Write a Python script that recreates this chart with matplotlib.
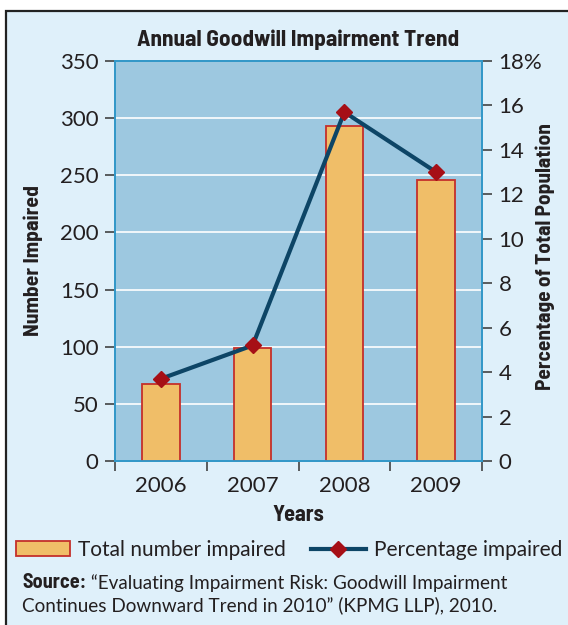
import matplotlib
matplotlib.use('Agg')
import matplotlib.pyplot as plt
from matplotlib.patches import Rectangle
from matplotlib.lines import Line2D

# data
years = ['2006', '2007', '2008', '2009']
num_impaired = [67, 99, 293, 246]
pct_impaired = [3.7, 5.2, 15.7, 13.0]
left_ticks = [0, 50, 100, 150, 200, 250, 300, 350]
right_ticks = [0, 2, 4, 6, 8, 10, 12, 14, 16, 18]
right_labels = ['0', '2', '4', '6', '8', '10', '12', '14', '16', '18%']

W, H = 568, 625
BG = '#dff0fa'
PLOT_BG = '#9dc8e0'
BAR = '#f0be68'
BAR_EDGE = '#c4302b'
LINE = '#0d4566'
MARK = '#a60f16'
SPINE = '#3398c8'
TXT = '#231f20'
REG = ['Lato', 'DejaVu Sans']
BOLD = ['Barlow Semi Condensed', 'DejaVu Sans']
bold_kw = dict(fontfamily=BOLD, fontweight='bold', fontstretch='semi-condensed', color=TXT)

fig = plt.figure(figsize=(W / 100, H / 100), dpi=100)
fig.patch.set_facecolor('white')

# outer frame of the figure box
frame = Rectangle((6 / W, -0.05), 1.1, 1 - 11 / H + 0.05, transform=fig.transFigure,
                  facecolor=BG, edgecolor='#222222', linewidth=1.6, zorder=0)
fig.add_artist(frame)

ax = fig.add_axes([115 / W, (H - 461) / H, (482 - 115) / W, 400 / H])
ax.set_facecolor(PLOT_BG)
xs = list(range(len(years)))
bars = ax.bar(xs, num_impaired, width=0.41, color=BAR, edgecolor=BAR_EDGE,
              linewidth=1.3, zorder=3)
ax.set_xlim(-0.5, len(years) - 0.5)
ax.set_ylim(0, 350)
ax.set_yticks(left_ticks)
ax.yaxis.grid(True, color='white', linewidth=1.2, zorder=1)
ax.set_axisbelow(True)
ax.set_xticks(xs)
ax.set_xticklabels(years)
ax.set_xticks([x - 0.5 for x in range(len(years) + 1)], minor=True)
ax.tick_params(axis='x', which='major', length=0, pad=11, labelsize=16, labelcolor=TXT)
ax.tick_params(axis='x', which='minor', length=7, width=1.1, color='#333333', direction='out')
ax.tick_params(axis='y', length=7, width=1.1, color='#333333', labelsize=16,
               labelcolor=TXT, pad=5)
for lab in ax.get_xticklabels() + ax.get_yticklabels():
    lab.set_fontfamily(REG)
for side in ax.spines.values():
    side.set_color(SPINE)
    side.set_linewidth(1.3)

ax2 = ax.twinx()
line, = ax2.plot(xs, pct_impaired, color=LINE, linewidth=3, marker='D',
                 markersize=8, markerfacecolor=MARK, markeredgecolor=MARK, zorder=5)
ax2.set_ylim(0, 18)
ax2.set_yticks(right_ticks)
ax2.set_yticklabels(right_labels, fontfamily=REG)
ax2.tick_params(axis='y', length=7, width=1.1, color='#333333', labelsize=16,
                labelcolor=TXT, pad=5)
for side in ax2.spines.values():
    side.set_color(SPINE)
    side.set_linewidth(1.3)

ax.set_title('Annual Goodwill Impairment Trend', fontsize=16.8, pad=11, **bold_kw)
ax.set_xlabel('Years', fontsize=16, labelpad=6, **bold_kw)
ax.set_ylabel('Number Impaired', fontsize=15.6, va='center', **bold_kw)
ax.yaxis.set_label_coords((33 - 115) / (482 - 115), 0.5)
ax2.set_ylabel('Percentage of Total Population', fontsize=15.4, rotation=90,
               va='center', **bold_kw)
ax2.yaxis.set_label_coords((545 - 115) / (482 - 115), 0.51)

line_handle = Line2D([], [], color=LINE, linewidth=3, marker='D', markersize=8,
                     markerfacecolor=MARK, markeredgecolor=MARK)
fig.legend([bars, line_handle], ['Total number impaired', 'Percentage impaired'],
           loc='center left', bbox_to_anchor=(16 / W, 1 - 550 / H), ncol=2,
           frameon=False, borderpad=0, borderaxespad=0, handlelength=2.6,
           handleheight=0.75, handletextpad=0.4, columnspacing=1.2,
           prop={'family': REG, 'size': 15}, labelcolor=TXT)

src = fig.text(22 / W, 1 - 583 / H, 'Source:', fontsize=14.5, va='center', **bold_kw)
ax.annotate(' \u201cEvaluating Impairment Risk: Goodwill Impairment',
            xy=(1, 0), xycoords=src, va='bottom', ha='left', fontfamily=REG,
            fontsize=13.6, color=TXT, annotation_clip=False)
fig.text(22 / W, 1 - 605 / H,
         'Continues Downward Trend in 2010\u201d (KPMG LLP), 2010.',
         fontfamily=REG, fontsize=13.6, color=TXT, va='center')

fig.savefig('out.png', dpi=100)
